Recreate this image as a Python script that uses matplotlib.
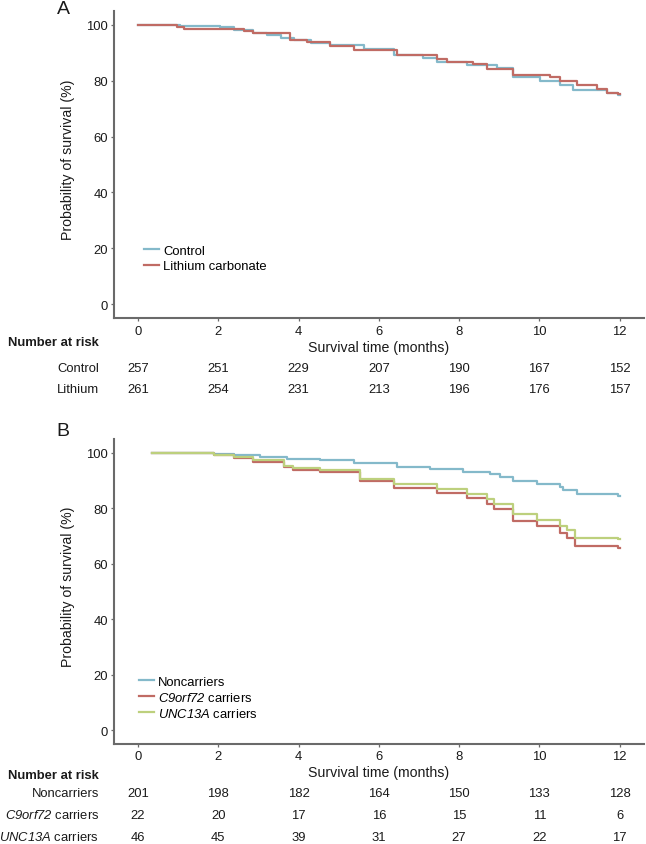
import matplotlib
matplotlib.use("Agg")
import matplotlib.pyplot as plt
import matplotlib.transforms as mtransforms

plt.rcParams['font.family'] = ['Liberation Sans', 'DejaVu Sans']
# math parts are only used for gene names, so make the whole math run italic (digits too)
plt.rcParams['mathtext.fontset'] = 'custom'
plt.rcParams['mathtext.rm'] = 'Liberation Sans:italic'
plt.rcParams['mathtext.it'] = 'Liberation Sans:italic'

# ---- data (months, % surviving) ----
# Panel A
control_t = [0, 1.05, 2.05, 2.38, 2.87, 3.21, 3.55, 3.88, 4.3, 4.79, 5.62, 6.37, 7.11,
             7.45, 8.19, 8.94, 9.35, 10.02, 10.52, 10.85, 11.68, 11.95, 12.0]
control_s = [100, 99.6, 99.3, 98.1, 97.2, 96.2, 95.4, 94.4, 93.6, 92.8, 91.4, 89.2, 88.1,
             86.8, 85.7, 84.5, 81.2, 79.7, 78.5, 76.5, 75.5, 75.0, 75.0]
lithium_t = [0, 0.97, 1.15, 2.63, 2.87, 3.79, 4.2, 4.79, 5.37, 6.45, 7.45, 7.7, 8.36,
             8.69, 9.35, 10.27, 10.52, 10.94, 11.44, 11.69, 11.95, 12.0]
lithium_s = [100, 99.3, 98.6, 97.6, 96.9, 94.4, 93.8, 92.4, 91.0, 89.0, 87.8, 86.8, 86.0,
             84.2, 82.1, 81.3, 79.7, 78.5, 77.1, 75.6, 75.1, 75.1]

# Panel B
noncarrier_t = [0.35, 0.97, 1.88, 2.38, 3.04, 3.71, 4.54, 5.37, 6.45, 7.28, 8.11, 8.77,
                9.02, 9.35, 9.94, 10.52, 10.6, 10.94, 11.95, 12.0]
noncarrier_s = [100, 99.8, 99.5, 99.2, 98.5, 97.9, 97.3, 96.4, 94.9, 94.2, 93.1, 92.2,
                91.2, 89.8, 88.6, 87.8, 86.6, 85.0, 84.4, 84.4]
c9_t = [0.35, 0.97, 1.88, 2.38, 2.87, 3.63, 3.87, 4.54, 5.54, 6.37, 7.45, 8.2, 8.69,
        8.86, 9.35, 9.94, 10.52, 10.69, 10.9, 11.95, 12.0]
c9_s = [100, 99.8, 99.1, 98.3, 96.8, 94.8, 94.0, 93.2, 89.8, 87.4, 85.6, 83.8, 81.4,
        79.6, 75.4, 73.6, 71.2, 69.4, 66.4, 65.8, 65.8]
unc_t = [0.35, 0.97, 1.88, 2.38, 2.87, 3.63, 3.87, 4.54, 5.54, 6.37, 7.45, 8.2, 8.69,
         8.86, 9.35, 9.94, 10.52, 10.69, 10.9, 11.95, 12.0]
unc_s = [100, 99.8, 99.2, 98.5, 97.5, 95.3, 94.4, 93.8, 90.4, 88.9, 86.8, 85.0, 83.5,
         81.4, 77.8, 75.7, 73.6, 72.1, 69.4, 69.0, 69.0]

risk_times = [0, 2, 4, 6, 8, 10, 12]
risk_a_labels = ['Control', 'Lithium']
risk_a = [[257, 251, 229, 207, 190, 167, 152],
          [261, 254, 231, 213, 196, 176, 157]]
risk_b_labels = ['Noncarriers', r'$C9orf72$ carriers', r'$UNC13A$ carriers']
risk_b = [[201, 198, 182, 164, 150, 133, 128],
          [22, 20, 17, 16, 15, 11, 6],
          [46, 45, 39, 31, 27, 22, 17]]

blue = '#84b9ca'
red = '#c06b64'
green = '#bdd07d'
txt = '#1a1a1a'
axis_grey = '#6a6a6a'

W, H = 646, 845
fig = plt.figure(figsize=(W / 100, H / 100), dpi=100)


def px(x0, top, x1, bottom):
    # convert pixel box to figure fraction
    return [x0 / W, 1 - bottom / H, (x1 - x0) / W, (bottom - top) / H]


def style_axes(ax):
    for s in ['top', 'right']:
        ax.spines[s].set_visible(False)
    for s in ['left', 'bottom']:
        ax.spines[s].set_color(axis_grey)
        ax.spines[s].set_linewidth(1.5)
    ax.set_xlim(-0.6, 12.6)
    ax.set_ylim(-5, 105)
    ax.set_xticks(risk_times)
    ax.set_yticks([0, 20, 40, 60, 80, 100])
    ax.tick_params(length=2.5, width=0.9, color=axis_grey, pad=2, labelsize=9.4,
                   labelcolor=txt)
    ax.set_ylabel('Probability of survival (%)', fontsize=10.2, color=txt)
    ax.set_xlabel('Survival time (months)', fontsize=10.2, color=txt)


def risk_table(ax, labels, rows, ys):
    tr = mtransforms.blended_transform_factory(ax.transData, fig.transFigure)
    for lab, vals, y in zip(labels, rows, ys):
        yf = 1 - y / H
        fig.text(99 / W, yf, lab, ha='right', va='center', fontsize=9.4, color=txt)
        for t, v in zip(risk_times, vals):
            ax.text(t, yf, str(v), transform=tr, ha='center', va='center',
                    fontsize=9.4, color=txt, clip_on=False)


legend_kw = dict(loc='upper left', frameon=False, fontsize=9.4, handlelength=1.15,
                 handletextpad=0.3, labelspacing=0.25, borderpad=0, borderaxespad=0)

# ---- Panel A ----
axA = fig.add_axes(px(114, 11.7, 643.6, 319.3))
style_axes(axA)
axA.step(control_t, control_s, where='post', color=blue, lw=1.6, label='Control')
axA.step(lithium_t, lithium_s, where='post', color=red, lw=1.6, label='Lithium carbonate')
axA.yaxis.set_label_coords(-0.074, 0.52)
axA.xaxis.set_label_coords(0.5, -0.072)
axA.legend(bbox_to_anchor=(0.0566, 0.239), **legend_kw)
fig.text(63 / W, 1 - 10 / H, 'A', ha='center', va='center', fontsize=14, color=txt)
fig.text(8 / W, 1 - 342.7 / H, 'Number at risk', ha='left', va='center', fontsize=9.4,
         fontweight='bold', color=txt)
risk_table(axA, risk_a_labels, risk_a, [369, 390])

# ---- Panel B ----
axB = fig.add_axes(px(114, 440, 643.6, 745))
style_axes(axB)
axB.step(noncarrier_t, noncarrier_s, where='post', color=blue, lw=1.6, label='Noncarriers')
axB.step(c9_t, c9_s, where='post', color=red, lw=1.6, label=r'$C9orf72$ carriers')
axB.step(unc_t, unc_s, where='post', color=green, lw=1.6, label=r'$UNC13A$ carriers')
axB.yaxis.set_label_coords(-0.074, 0.52)
axB.xaxis.set_label_coords(0.5, -0.069)
axB.legend(bbox_to_anchor=(0.047, 0.225), **legend_kw)
fig.text(63 / W, 1 - 431.7 / H, 'B', ha='center', va='center', fontsize=14, color=txt)
fig.text(8 / W, 1 - 776 / H, 'Number at risk', ha='left', va='center', fontsize=9.4,
         fontweight='bold', color=txt)
risk_table(axB, risk_b_labels, risk_b, [794, 816, 838])

fig.savefig('out.png', dpi=100)
